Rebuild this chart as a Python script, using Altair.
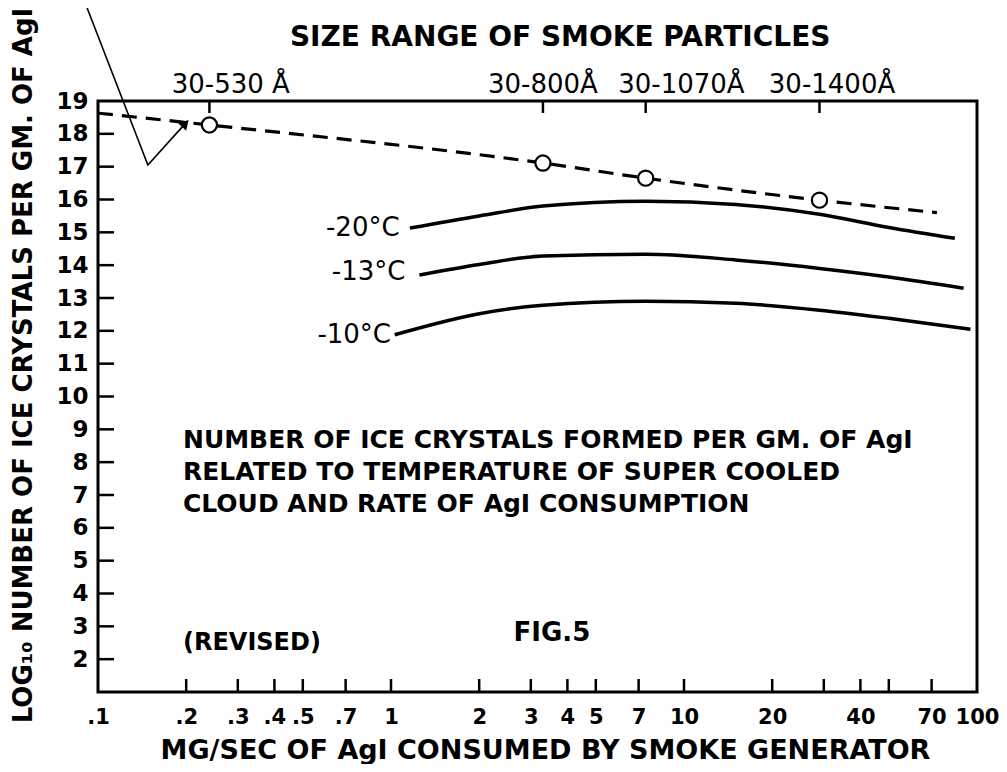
import altair as alt
import pandas as pd

# ---------------- data ----------------
rate_20 = [1.16, 2.0, 3.3, 7.4, 15.0, 29.0, 50.0, 84.0]
log_20 = [15.13, 15.50, 15.80, 15.95, 15.85, 15.55, 15.15, 14.82]

rate_13 = [1.25, 2.0, 3.3, 7.4, 15.0, 29.0, 50.0, 90.0]
log_13 = [13.70, 14.02, 14.28, 14.33, 14.16, 13.90, 13.64, 13.30]

rate_10 = [1.03, 2.0, 3.3, 7.4, 15.0, 29.0, 50.0, 95.0]
log_10 = [11.88, 12.52, 12.78, 12.90, 12.84, 12.63, 12.38, 12.05]

dash_rate = [0.1, 0.24, 3.3, 7.4, 29.0, 73.0]
dash_log = [18.63, 18.27, 17.11, 16.65, 15.98, 15.60]

circle_rate = [0.24, 3.3, 7.4, 29.0]
circle_log = [18.27, 17.11, 16.65, 15.98]

size_labels = ["30-530 Å", "30-800Å", "30-1070Å", "30-1400Å"]
size_label_x = [0.284, 3.3, 9.8, 32.0]

x_tick_values = [0.2, 0.3, 0.4, 0.5, 0.7, 1, 2, 3, 4, 5, 7, 10, 20, 30, 40, 50, 70]
x_label_values = [0.1, 0.2, 0.3, 0.4, 0.5, 0.7, 1, 2, 3, 4, 5, 7, 10, 20, 40, 70, 100]
y_tick_values = list(range(2, 19))
y_label_values = list(range(2, 20))

temp_labels = ["-20°C", "-13°C", "-10°C"]
temp_label_x = [1.07, 1.12, 1.0]
temp_label_y = [15.13, 13.80, 11.88]

body_lines = [
    "NUMBER OF ICE CRYSTALS FORMED PER GM. OF AgI",
    "RELATED TO TEMPERATURE OF SUPER COOLED",
    "CLOUD AND RATE OF AgI CONSUMPTION",
]
body_y = [8.66, 7.69, 6.74]

pointer_x = [0.0903, 0.148, 0.197]
pointer_y = [22.0, 17.05, 18.28]

FONT = "DejaVu Sans"
W, H = 879, 591

# ---------------- tables ----------------
curves = pd.concat([
    pd.DataFrame({"x": rate_20, "y": log_20, "s": "-20"}),
    pd.DataFrame({"x": rate_13, "y": log_13, "s": "-13"}),
    pd.DataFrame({"x": rate_10, "y": log_10, "s": "-10"}),
])
dash = pd.DataFrame({"x": dash_rate, "y": dash_log})
circles = pd.DataFrame({"x": circle_rate, "y": circle_log})
sizes = pd.DataFrame({"x": size_label_x, "y": [19.49] * 4, "label": size_labels})
xticks = pd.DataFrame({"x": x_tick_values})
yticks = pd.DataFrame({"y": y_tick_values})
temps = pd.DataFrame({"x": temp_label_x, "y": temp_label_y, "label": temp_labels})
body = pd.DataFrame({"x": [0.195] * 3, "y": body_y, "label": body_lines})
revised = pd.DataFrame({"x": [0.195], "y": [2.48], "label": ["(REVISED)"]})
fig = pd.DataFrame({"x": [3.54], "y": [2.81], "label": ["FIG.5"]})
title_df = pd.DataFrame({"x": [3.78], "y": [20.92], "label": ["SIZE RANGE OF SMOKE PARTICLES"]})
pointer = pd.DataFrame({"x": pointer_x, "y": pointer_y, "o": [0, 1, 2]})
arrow = pd.DataFrame({"x": [pointer_x[2]], "y": [pointer_y[2]]})

xscale = alt.Scale(type="log", domain=[0.1, 100], nice=False)
yscale = alt.Scale(domain=[1, 19], nice=False, zero=False)

X = alt.X("x:Q", scale=xscale, axis=alt.Axis(
    values=x_label_values, ticks=False, domain=False, grid=False,
    labelExpr="datum.value < 1 ? replace(format(datum.value, '.1f'), '0.', '.') : format(datum.value, 'd')",
    labelFontSize=21, labelFontWeight="bold", labelPadding=14, labelColor="black", labelFont=FONT,
    labelOverlap=False, labelFlush=False,
    title="MG/SEC OF AgI CONSUMED BY SMOKE GENERATOR",
    titleFontSize=27, titleFontWeight="bold", titleFont=FONT, titleColor="black",
    titleX=447, titleY=58, titleBaseline="middle"))
Y = alt.Y("y:Q", scale=yscale, axis=alt.Axis(
    values=y_label_values, ticks=False, domain=False, grid=False,
    labelFontSize=23, labelFontWeight="bold", labelPadding=10, labelColor="black", labelFont=FONT,
    labelOverlap=False, labelFlush=False, labelBaseline="middle",
    title="LOG₁₀ NUMBER OF ICE CRYSTALS PER GM. OF AgI",
    titleFontSize=26, titleFontWeight="bold", titleFont=FONT, titleColor="black",
    titleX=-75, titleY=264, titleAngle=-90, titleBaseline="middle"))

curve_layer = alt.Chart(curves).mark_line(
    color="black", strokeWidth=3.5, interpolate="monotone"
).encode(x=X, y=Y, detail="s:N")

dash_layer = alt.Chart(dash).mark_line(
    color="black", strokeWidth=3.2, strokeDash=[15, 9], interpolate="monotone"
).encode(x=X, y=Y)

circle_layer = alt.Chart(circles).mark_point(
    shape="circle", size=230, filled=True, fill="white", stroke="black",
    strokeWidth=2.2, opacity=1
).encode(x=X, y=Y)

ytick_layer = alt.Chart(yticks).mark_rule(color="black", strokeWidth=2.5).encode(
    y=Y, x=alt.value(0), x2=alt.value(16))

xtick_layer = alt.Chart(xticks).mark_rule(color="black", strokeWidth=2.5).encode(
    x=X, y=alt.value(H), y2=alt.value(H - 13))

toptick_layer = alt.Chart(circles).mark_rule(color="black", strokeWidth=2.5).encode(
    x=X, y=alt.value(0), y2=alt.value(12))

size_layer = alt.Chart(sizes).mark_text(
    font=FONT, fontSize=26, color="black", align="center", baseline="middle"
).encode(x=X, y=Y, text="label:N")

title_layer = alt.Chart(title_df).mark_text(
    font=FONT, fontSize=28, fontWeight="bold", color="black", align="center", baseline="middle"
).encode(x=X, y=Y, text="label:N")

temp_layer = alt.Chart(temps).mark_text(
    font=FONT, fontSize=26, color="black", align="right", baseline="middle"
).encode(x=X, y=Y, text="label:N")

body_layer = alt.Chart(body).mark_text(
    font=FONT, fontSize=25, fontWeight="bold", color="black", align="left", baseline="middle"
).encode(x=X, y=Y, text="label:N")

revised_layer = alt.Chart(revised).mark_text(
    font=FONT, fontSize=24, fontWeight="bold", color="black", align="left", baseline="middle"
).encode(x=X, y=Y, text="label:N")

fig_layer = alt.Chart(fig).mark_text(
    font=FONT, fontSize=26, fontWeight="bold", color="black", align="center", baseline="middle"
).encode(x=X, y=Y, text="label:N")

pointer_layer = alt.Chart(pointer).mark_line(
    color="black", strokeWidth=1.6
).encode(x=X, y=Y, order="o:Q")

arrow_layer = alt.Chart(arrow).mark_point(
    shape="triangle", size=120, filled=True, color="black", opacity=1, angle=43
).encode(x=X, y=Y)

chart = alt.layer(
    curve_layer, dash_layer, circle_layer, ytick_layer, xtick_layer, toptick_layer,
    size_layer, title_layer, temp_layer, body_layer, revised_layer, fig_layer,
    pointer_layer, arrow_layer
).properties(
    width=W, height=H,
    autosize=alt.AutoSizeParams(type="none"),
    padding={"left": 90, "top": 93, "right": 22, "bottom": 72},
    background="white"
).configure_view(
    stroke="black", strokeWidth=3
)

chart.save("out.html", embed_options={"renderer": "svg", "actions": False})
